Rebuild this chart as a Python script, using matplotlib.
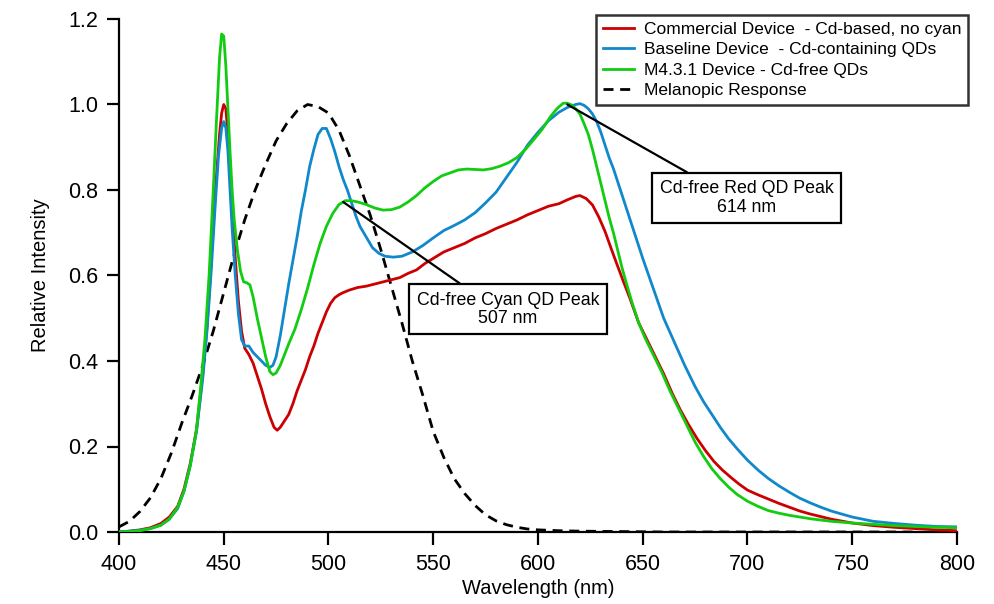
import matplotlib
matplotlib.use("Agg")
import matplotlib.pyplot as plt
from matplotlib.ticker import FormatStrFormatter, MultipleLocator

plt.rcParams['font.family'] = ['Liberation Sans', 'DejaVu Sans']

# ---------------- spectra ----------------
commercial_wl = [400, 405, 410, 415, 420, 424, 428, 431, 434, 437, 440, 442, 444, 446, 448, 449,
                 450, 451, 452, 453, 454, 455.5, 457, 458.5, 460, 462, 464, 466, 468, 470, 472,
                 474, 475.5, 477, 479, 481, 483, 485, 487, 489, 491, 493, 495, 497, 499, 501, 503,
                 505, 507, 510, 514, 518, 522, 526, 530, 534, 538, 542, 546, 550, 555, 560, 565,
                 570, 575, 580, 585, 590, 595, 600, 605, 610, 614, 618, 620, 623, 626, 629, 632,
                 635, 638, 641, 644, 648, 652, 656, 660, 664, 668, 672, 676, 680, 684, 688, 692,
                 696, 700, 705, 710, 715, 720, 725, 730, 735, 740, 750, 760, 770, 780, 790, 800]
commercial_val = [0.0, 0.002, 0.005, 0.010, 0.020, 0.035, 0.060, 0.100, 0.160, 0.240, 0.370, 0.480,
                  0.630, 0.800, 0.930, 0.980, 1.000, 0.990, 0.930, 0.840, 0.750, 0.640, 0.540, 0.470,
                  0.430, 0.415, 0.395, 0.365, 0.335, 0.300, 0.270, 0.245, 0.238, 0.245, 0.260, 0.275,
                  0.300, 0.330, 0.355, 0.380, 0.410, 0.435, 0.465, 0.490, 0.515, 0.535, 0.548, 0.555,
                  0.560, 0.566, 0.572, 0.575, 0.580, 0.585, 0.590, 0.595, 0.605, 0.613, 0.628, 0.640,
                  0.655, 0.665, 0.675, 0.688, 0.698, 0.710, 0.720, 0.730, 0.742, 0.752, 0.762, 0.768,
                  0.777, 0.785, 0.787, 0.780, 0.765, 0.737, 0.703, 0.662, 0.622, 0.583, 0.545, 0.490,
                  0.450, 0.410, 0.370, 0.325, 0.285, 0.250, 0.218, 0.190, 0.165, 0.145, 0.128, 0.112,
                  0.098, 0.087, 0.077, 0.067, 0.058, 0.049, 0.042, 0.036, 0.030, 0.021, 0.015, 0.011,
                  0.008, 0.005, 0.003]

baseline_wl = [400, 405, 410, 415, 420, 424, 428, 431, 434, 437, 440, 442, 444, 446, 447.5, 449,
               450, 451, 452, 453, 454, 455.5, 457, 458.5, 460, 462, 464, 466, 468, 470, 472, 473.5,
               475, 477, 479, 481, 483, 485, 487, 489, 491, 493, 495, 497, 499, 501, 503, 505, 507,
               509, 511, 513, 515, 518, 521, 524, 527, 531, 535, 540, 545, 550, 555, 560, 565, 570,
               575, 580, 585, 590, 595, 600, 605, 610, 614, 618, 620, 622, 624, 626, 628, 630, 632,
               634, 636, 638, 640, 645, 650, 655, 660, 665, 670, 675, 679, 683, 687, 691, 695, 700,
               705, 710, 715, 720, 725, 730, 735, 740, 750, 760, 770, 780, 790, 800]
baseline_val = [0.0, 0.002, 0.004, 0.008, 0.016, 0.030, 0.055, 0.095, 0.155, 0.235, 0.360, 0.470,
                0.610, 0.770, 0.880, 0.945, 0.960, 0.945, 0.890, 0.800, 0.710, 0.600, 0.510, 0.450,
                0.435, 0.435, 0.420, 0.410, 0.400, 0.390, 0.385, 0.390, 0.410, 0.460, 0.520, 0.580,
                0.635, 0.690, 0.750, 0.800, 0.855, 0.895, 0.930, 0.944, 0.944, 0.920, 0.890, 0.855,
                0.825, 0.800, 0.770, 0.740, 0.715, 0.690, 0.665, 0.652, 0.645, 0.643, 0.645, 0.655,
                0.670, 0.688, 0.705, 0.717, 0.730, 0.747, 0.770, 0.795, 0.830, 0.865, 0.905, 0.935,
                0.962, 0.982, 0.993, 1.000, 1.002, 0.998, 0.990, 0.978, 0.960, 0.935, 0.905, 0.875,
                0.850, 0.820, 0.790, 0.715, 0.640, 0.570, 0.500, 0.445, 0.390, 0.340, 0.305, 0.275,
                0.245, 0.218, 0.195, 0.168, 0.145, 0.125, 0.108, 0.093, 0.079, 0.068, 0.058, 0.049,
                0.035, 0.025, 0.020, 0.016, 0.013, 0.012]

cdfree_wl = [400, 405, 410, 415, 420, 424, 428, 431, 434, 437, 439, 441, 443, 445, 446.5, 448, 449,
             450, 451, 452, 453, 454, 455, 456.5, 458, 459.5, 461, 462.5, 464, 466, 468, 470, 472,
             473.5, 475, 477, 479, 481, 484, 487, 490, 493, 496, 499, 502, 505, 508, 511, 514, 518,
             522, 526, 530, 534, 538, 542, 546, 550, 554, 558, 562, 566, 570, 574, 578, 582, 586,
             590, 594, 598, 602, 606, 609, 612, 614, 616, 618, 620, 622, 624, 626, 628, 630, 632,
             634, 636, 638, 640, 642, 645, 648, 651, 655, 659, 663, 667, 671, 675, 679, 683, 687,
             691, 695, 700, 705, 710, 715, 720, 725, 730, 740, 750, 760, 770, 780, 790, 800]
cdfree_val = [0.0, 0.001, 0.003, 0.008, 0.016, 0.030, 0.058, 0.095, 0.155, 0.240, 0.340, 0.450,
              0.600, 0.800, 0.960, 1.110, 1.165, 1.160, 1.090, 0.990, 0.890, 0.800, 0.730, 0.660,
              0.610, 0.585, 0.583, 0.578, 0.550, 0.500, 0.455, 0.410, 0.375, 0.368, 0.372, 0.390,
              0.415, 0.440, 0.475, 0.520, 0.570, 0.625, 0.675, 0.715, 0.745, 0.766, 0.775, 0.775,
              0.772, 0.766, 0.758, 0.753, 0.754, 0.760, 0.772, 0.787, 0.805, 0.820, 0.833, 0.840,
              0.847, 0.849, 0.848, 0.847, 0.850, 0.856, 0.864, 0.876, 0.895, 0.918, 0.942, 0.972,
              0.990, 1.003, 1.003, 0.999, 0.990, 0.978, 0.955, 0.930, 0.895, 0.855, 0.815, 0.775,
              0.735, 0.700, 0.660, 0.620, 0.585, 0.535, 0.490, 0.455, 0.415, 0.375, 0.330, 0.290,
              0.250, 0.210, 0.177, 0.148, 0.125, 0.105, 0.088, 0.072, 0.060, 0.050, 0.044, 0.039,
              0.035, 0.031, 0.025, 0.021, 0.018, 0.015, 0.013, 0.011, 0.010]

melanopic_wl = [400, 405, 410, 415, 420, 425, 430, 435, 440, 445, 450, 455, 460, 465, 470, 475,
                480, 485, 490, 495, 500, 505, 510, 515, 520, 525, 530, 535, 540, 545, 550, 555,
                560, 565, 570, 575, 580, 585, 590, 595, 600, 610, 620, 640, 660, 700, 740, 780]
melanopic_val = [0.012, 0.025, 0.048, 0.080, 0.125, 0.185, 0.255, 0.320, 0.390, 0.470, 0.560,
                 0.650, 0.730, 0.800, 0.860, 0.915, 0.955, 0.985, 1.000, 0.995, 0.980, 0.940,
                 0.880, 0.810, 0.740, 0.660, 0.575, 0.490, 0.400, 0.320, 0.235, 0.175, 0.125,
                 0.090, 0.062, 0.040, 0.026, 0.017, 0.011, 0.007, 0.005, 0.003, 0.002, 0.001,
                 0.0, 0.0, 0.0, 0.0]

series_labels = ["Commercial Device  - Cd-based, no cyan",
                 "Baseline Device  - Cd-containing QDs",
                 "M4.3.1 Device - Cd-free QDs",
                 "Melanopic Response"]

# annotated peaks
cyan_peak_nm, cyan_peak_val = 507, 0.772
red_peak_nm, red_peak_val = 614, 1.0

x_ticks = [400, 450, 500, 550, 600, 650, 700, 750, 800]

# ---------------- figure ----------------
W, H = 994, 604
fig = plt.figure(figsize=(W / 100, H / 100), dpi=100)
ax = fig.add_axes([119 / W, 72 / H, 838 / W, 513 / H])

lw = 2.0
ax.plot(commercial_wl, commercial_val, color='#CC0000', lw=lw, label=series_labels[0], zorder=3)
ax.plot(baseline_wl, baseline_val, color='#1188CC', lw=lw, label=series_labels[1], zorder=3)
ax.plot(cdfree_wl, cdfree_val, color='#11CC11', lw=lw, label=series_labels[2], zorder=4)
ax.plot(melanopic_wl, melanopic_val, color='black', lw=lw, dashes=(3.6, 2.4),
        label=series_labels[3], zorder=2)

ax.set_xlim(400, 800)
ax.set_ylim(0, 1.2)
ax.set_xticks(x_ticks)
ax.yaxis.set_major_locator(MultipleLocator(0.2))
ax.yaxis.set_major_formatter(FormatStrFormatter('%.1f'))

for side in ('top', 'right'):
    ax.spines[side].set_visible(False)
for side in ('left', 'bottom'):
    ax.spines[side].set_linewidth(1.6)
ax.tick_params(direction='out', length=9, width=1.6, labelsize=15.5)
ax.tick_params(axis='x', pad=7)
ax.tick_params(axis='y', pad=6)

ax.set_xlabel("Wavelength (nm)", fontsize=14.5, labelpad=3)
ax.set_ylabel("Relative Intensity", fontsize=14.5, labelpad=13)

box = dict(boxstyle='square,pad=0.42', fc='white', ec='black', lw=1.6)
ax.annotate(f"Cd-free Cyan QD Peak\n{cyan_peak_nm} nm",
            xy=(cyan_peak_nm, cyan_peak_val), xytext=(585.7, 0.521),
            ha='center', va='center', fontsize=12.8, linespacing=1.1, bbox=box,
            arrowprops=dict(arrowstyle='-', lw=1.6, color='black', shrinkA=0, shrinkB=0,
                            relpos=(0.3, 1.0)), zorder=5)
ax.annotate(f"Cd-free Red QD Peak\n{red_peak_nm} nm",
            xy=(red_peak_nm, red_peak_val), xytext=(699.6, 0.781),
            ha='center', va='center', fontsize=12.8, linespacing=1.1, bbox=box,
            arrowprops=dict(arrowstyle='-', lw=1.6, color='black', shrinkA=0, shrinkB=0,
                            relpos=(0.24, 1.0)), zorder=5)

leg = fig.legend(loc='upper right', bbox_to_anchor=(968 / W, 1 - 15 / H), borderaxespad=0,
                 fontsize=12.5, frameon=True, fancybox=False, handlelength=1.8,
                 handletextpad=0.55, labelspacing=0.3, borderpad=0.4)
leg.get_frame().set_edgecolor('black')
leg.get_frame().set_linewidth(1.8)

fig.savefig("out.png", dpi=100)
